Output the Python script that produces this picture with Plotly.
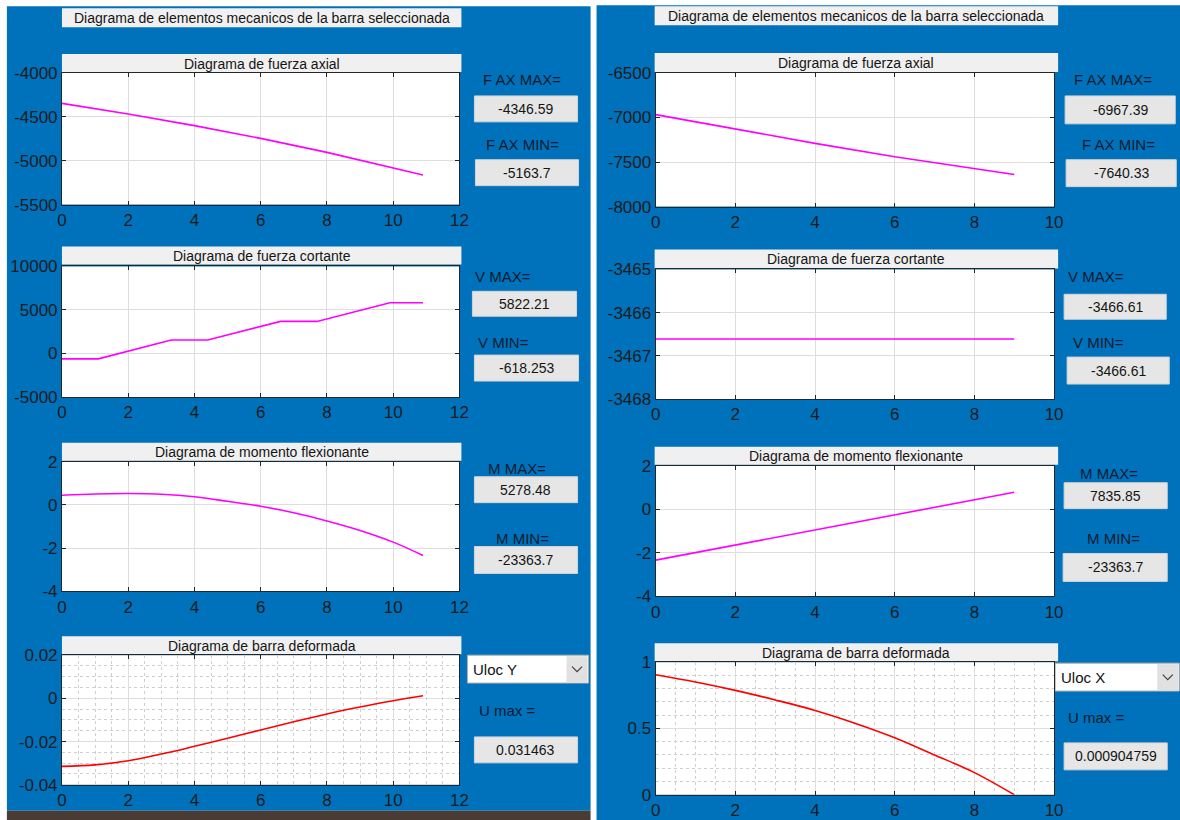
import plotly.graph_objects as go

W, H = 1180, 820

# ---------------- DATA ----------------
# Left panel (bar length ~10.9)
xL_axial = [0, 2, 4, 6, 8, 10, 10.9]
axial_L = [-4346.59, -4468, -4600, -4745, -4905, -5078, -5163.7]

xL_shear = [0, 1.1, 3.3, 4.4, 6.6, 7.7, 9.9, 10.9]
shear_L = [-618.253, -618.253, 1550, 1550, 3680, 3680, 5822.21, 5822.21]

xL_moment = [0, 1, 2, 3, 4, 5, 6, 7, 8, 9, 10, 10.9]
moment_L = [0.45, 0.51, 0.53, 0.50, 0.38, 0.17, -0.06, -0.36, -0.74, -1.18, -1.72, -2.33637]  # x10^4

xL_def = [0, 1, 2, 3, 4, 5, 6, 7, 8, 9, 10, 10.9]
def_L = [-0.0315, -0.0308, -0.0289, -0.0258, -0.0222, -0.0185, -0.0146, -0.0108, -0.0072, -0.0040, -0.0011, 0.0012]

# Right panel (bar length ~9)
xR_axial = [0, 2, 4, 6, 8, 9]
axial_R = [-6967.39, -7130, -7290, -7440, -7575, -7640.33]

xR_shear = [0, 9]
shear_R = [-3466.61, -3466.61]

xR_moment = [0, 9]
moment_R = [-2.33637, 0.783585]  # x10^4

xR_def = [0, 1, 2, 3, 4, 5, 6, 7, 8, 9]
def_R = [0.905, 0.85, 0.787, 0.715, 0.636, 0.54, 0.43, 0.30, 0.167, 0.0]  # x10^-3

# Tick labels
xt_L = [0, 2, 4, 6, 8, 10, 12]
xt_R = [0, 2, 4, 6, 8, 10]
yt_axL = [-5500, -5000, -4500, -4000]
yt_shL = [-5000, 0, 5000, 10000]
yt_mo = [-4, -2, 0, 2]
yt_deL = [-0.04, -0.02, 0, 0.02]
yt_axR = [-8000, -7500, -7000, -6500]
yt_shR = [-3468, -3467, -3466, -3465]
yt_deR = [0, 0.5, 1]

lbl_xL = ["0", "2", "4", "6", "8", "10", "12"]
lbl_xR = ["0", "2", "4", "6", "8", "10"]
lbl_axL = ["-5500", "-5000", "-4500", "-4000"]
lbl_shL = ["-5000", "0", "5000", "10000"]
lbl_mo = ["-4", "-2", "0", "2"]
lbl_deL = ["-0.04", "-0.02", "0", "0.02"]
lbl_axR = ["-8000", "-7500", "-7000", "-6500"]
lbl_shR = ["-3468", "-3467", "-3466", "-3465"]
lbl_deR = ["0", "0.5", "1"]

main_title = "Diagrama de elementos mecanicos de la barra seleccionada"
sub_titles = ["Diagrama de fuerza axial", "Diagrama de fuerza cortante",
              "Diagrama de momento flexionante", "Diagrama de barra deformada"]

vals_L = {"F AX MAX=": "-4346.59", "F AX MIN=": "-5163.7", "V MAX=": "5822.21",
          "V MIN=": "-618.253", "M MAX=": "5278.48", "M MIN=": "-23363.7", "U max =": "0.031463"}
vals_R = {"F AX MAX=": "-6967.39", "F AX MIN=": "-7640.33", "V MAX=": "-3466.61",
          "V MIN=": "-3466.61", "M MAX=": "7835.85", "M MIN=": "-23363.7", "U max =": "0.000904759"}

# ---------------- STYLE ----------------
BLUE = "#0072BC"
FONT = "Liberation Sans, Arial, sans-serif"
MAG = "#FF00FF"
RED = "#FF0000"

# compensation of the page-to-photo mapping observed in earlier renders
OX, SX = 5.1, 0.987
OY, SY = 8.8, 0.975


def px(x):
    return ((x - OX) / SX) / W


def py(y):
    return 1 - ((y - OY) / SY) / H


shapes = []
annotations = []


def rect(x0, y0, x1, y1, fill, line=None, lw=0):
    shapes.append(dict(type="rect", xref="paper", yref="paper", layer="below",
                       x0=px(x0), x1=px(x1), y0=py(y1), y1=py(y0), fillcolor=fill,
                       line=dict(color=line or fill, width=lw)))


def text(x, y, s, size=13, color="#111111", anchor="center"):
    annotations.append(dict(xref="paper", yref="paper", x=px(x), y=py(y), text=s,
                            showarrow=False, xanchor=anchor, yanchor="middle",
                            font=dict(family=FONT, size=size, color=color)))


# panels
rect(-20, -20, W + 20, H + 20, "#FFFFFF")
rect(7, 6, 590, 813, BLUE)
rect(7, 813, 590, 830, "#4A3C34")
rect(596, 5, 1200, 830, BLUE)

fig = go.Figure()

panels = [
    dict(  # left
        px0=62, px1=459,
        plots=[(73, 205), (267, 398), (463, 593), (657, 787)],
        bars=[(8, 27), (54, 72), (247, 265), (444, 462), (638, 656)],
        barx=(62, 461),
        xr=[0, 12], xt=xt_L, xl=lbl_xL,
        series=[(xL_axial, axial_L, [-5500, -4000], yt_axL, lbl_axL, MAG),
                (xL_shear, shear_L, [-5000, 10000], yt_shL, lbl_shL, MAG),
                (xL_moment, moment_L, [-4, 2], yt_mo, lbl_mo, MAG),
                (xL_def, def_L, [-0.04, 0.02], yt_deL, lbl_deL, RED)],
        minor_y=0.005,
        labels=[("F AX MAX=", 522, 80, (474, 96, 577, 122)),
                ("F AX MIN=", 522, 145, (475, 160, 578, 186)),
                ("V MAX=", 503, 277, (472, 292, 576, 317)),
                ("V MIN=", 503, 343, (474, 356, 578, 382)),
                ("M MAX=", 517, 470, (474, 478, 577, 504)),
                ("M MIN=", 522, 540, (474, 548, 577, 575)),
                ("U max =", 507, 713, (474, 739, 577, 765))],
        vals=vals_L,
        dd=(467, 657, 588, 685, "Uloc Y"),
    ),
    dict(  # right
        px0=655, px1=1053,
        plots=[(73, 207), (270, 400), (467, 598), (664, 797)],
        bars=[(6, 25), (53, 72), (250, 269), (448, 466), (645, 663)],
        barx=(654, 1057),
        xr=[0, 10], xt=xt_R, xl=lbl_xR,
        series=[(xR_axial, axial_R, [-8000, -6500], yt_axR, lbl_axR, MAG),
                (xR_shear, shear_R, [-3468, -3465], yt_shR, lbl_shR, MAG),
                (xR_moment, moment_R, [-4, 2], yt_mo, lbl_mo, MAG),
                (xR_def, def_R, [0, 1], yt_deR, lbl_deR, RED)],
        minor_y=0.1,
        labels=[("F AX MAX=", 1112, 80, (1064, 96, 1174, 124)),
                ("F AX MIN=", 1117, 145, (1065, 160, 1175, 187)),
                ("V MAX=", 1095, 277, (1063, 295, 1165, 320)),
                ("V MIN=", 1097, 343, (1066, 358, 1168, 385)),
                ("M MAX=", 1108, 475, (1063, 484, 1166, 510)),
                ("M MIN=", 1112, 540, (1062, 555, 1166, 583)),
                ("U max =", 1095, 720, (1063, 745, 1166, 772))],
        vals=vals_R,
        dd=(1054, 665, 1178, 693, "Uloc X"),
    ),
]

axis_common = dict(showline=True, linecolor="#262626", linewidth=1, mirror="ticks",
                   ticks="inside", ticklen=4, tickcolor="#262626", showgrid=True,
                   gridcolor="#DEDEDE", gridwidth=1, zeroline=False, fixedrange=True,
                   tickfont=dict(family=FONT, size=17, color="#1B1B1B"))

layout_axes = {}
n = 0
for p in panels:
    # white plot areas
    for (y0, y1) in p["plots"]:
        rect(p["px0"], y0, p["px1"], y1, "#FFFFFF")
    # title bars
    bx0, bx1 = p["barx"]
    for i, (y0, y1) in enumerate(p["bars"]):
        rect(bx0, y0, bx1, y1, "#F0F0F0")
        t = main_title if i == 0 else sub_titles[i - 1]
        text((bx0 + bx1) / 2, (y0 + y1) / 2 + 0.5, t, size=14, color="#151515")
    # labels and value boxes
    for lab, lx, ly, (x0, y0, x1, y1) in p["labels"]:
        text(lx, ly, lab, size=15, color="#0B1A2E")
        rect(x0, y0, x1, y1, "#E6E6E6", line="#D4D4D4", lw=1)
        text((x0 + x1) / 2, (y0 + y1) / 2, p["vals"][lab], size=14, color="#151515")
    # dropdown
    dx0, dy0, dx1, dy1, dtxt = p["dd"]
    rect(dx0, dy0, dx1, dy1, "#FFFFFF", line="#ADADAD", lw=1)
    rect(dx1 - 22, dy0 + 1, dx1 - 1, dy1 - 1, "#E1E1E1")
    text(dx0 + 4, (dy0 + dy1) / 2, dtxt, size=15, color="#111111", anchor="left")
    cx, cy = dx1 - 11.5, (dy0 + dy1) / 2
    shapes.append(dict(type="path", xref="paper", yref="paper", layer="above",
                       path=f"M {px(cx-5)},{py(cy-2.5)} L {px(cx)},{py(cy+2.5)} L {px(cx+5)},{py(cy-2.5)}",
                       line=dict(color="#404040", width=1.2)))

    for k, ((y0, y1), (xs, ys, yr, yt, yl, col)) in enumerate(zip(p["plots"], p["series"])):
        n += 1
        xa = "xaxis" if n == 1 else f"xaxis{n}"
        ya = "yaxis" if n == 1 else f"yaxis{n}"
        xref = "x" if n == 1 else f"x{n}"
        yref = "y" if n == 1 else f"y{n}"
        xd = dict(axis_common, domain=[px(p["px0"]), px(p["px1"])], anchor=yref,
                  range=p["xr"], tickvals=p["xt"], ticktext=p["xl"])
        yd = dict(axis_common, domain=[py(y1), py(y0)], anchor=xref,
                  range=yr, tickvals=yt, ticktext=yl)
        if k == 3:
            xd["minor"] = dict(dtick=0.5, tick0=0, showgrid=True, griddash="dot",
                               gridcolor="#CFCFCF", ticks="")
            yd["minor"] = dict(dtick=p["minor_y"], tick0=0, showgrid=True, griddash="dot",
                               gridcolor="#CFCFCF", ticks="")
        layout_axes[xa] = xd
        layout_axes[ya] = yd
        shape = "spline" if k in (2, 3) else "linear"
        fig.add_trace(go.Scatter(x=xs, y=ys, mode="lines", xaxis=xref, yaxis=yref,
                                 line=dict(color=col, width=1.6, shape=shape),
                                 showlegend=False, hoverinfo="skip"))

fig.update_layout(width=W, height=H, margin=dict(l=0, r=0, t=0, b=0),
                  paper_bgcolor="#FFFFFF", plot_bgcolor="#FFFFFF",
                  shapes=shapes, annotations=annotations, showlegend=False,
                  **layout_axes)

fig.write_html("out.html", config=dict(displayModeBar=False),
               post_script="document.body.style.margin='0px';document.body.style.overflow='hidden';"
                           "document.body.style.background='" + BLUE + "';")
